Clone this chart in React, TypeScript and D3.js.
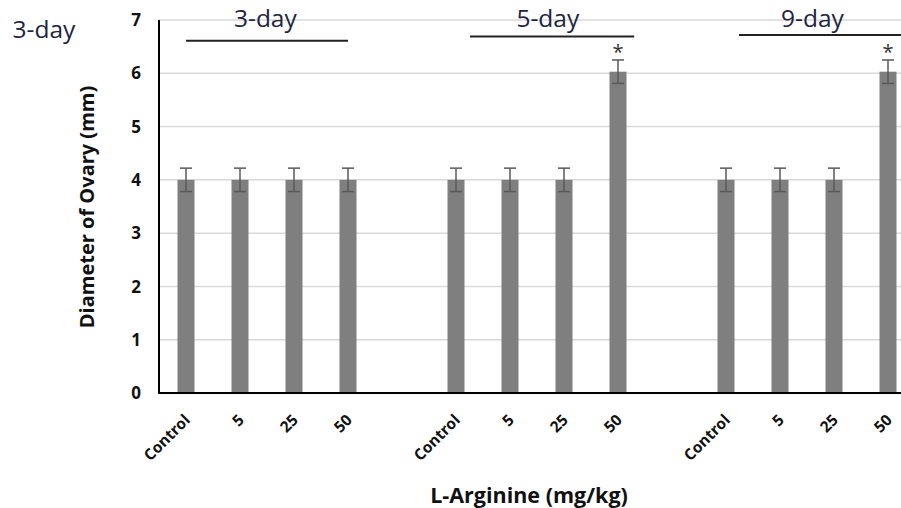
import React from "react";
import * as d3 from "d3";

const groups = ["3-day", "5-day", "9-day"];
const doses = ["Control", "5", "25", "50"];
const values3day = [4, 4, 4, 4];
const values5day = [4, 4, 4, 6.03];
const values9day = [4, 4, 4, 6.03];
const errors3day = [0.22, 0.22, 0.22, 0.22];
const errors5day = [0.22, 0.22, 0.22, 0.22];
const errors9day = [0.22, 0.22, 0.22, 0.22];
const signif3day = [false, false, false, false];
const signif5day = [false, false, false, true];
const signif9day = [false, false, false, true];
const yTicks = [0, 1, 2, 3, 4, 5, 6, 7];
// bracket annotations in slot units (start, end, y value)
const bracketStart = [0, 5.26, 10.24];
const bracketEnd = [3, 8.3, 13.6];
const bracketY = [6.61, 6.69, 6.72];
const bracketLabelX = [1.47, 6.7, 11.6];

const W = 901;
const H = 508;

export default function App() {
  const allValues = [values3day, values5day, values9day];
  const allErrors = [errors3day, errors5day, errors9day];
  const allSig = [signif3day, signif5day, signif9day];

  const slots: string[] = [];
  const bars: { key: string; label: string; v: number; e: number; sig: boolean }[] = [];
  groups.forEach((g, gi) => {
    doses.forEach((d, di) => {
      const key = g + "|" + d;
      slots.push(key);
      bars.push({ key, label: d, v: allValues[gi][di], e: allErrors[gi][di], sig: allSig[gi][di] });
    });
    if (gi < groups.length - 1) slots.push("gap" + gi);
  });

  const x0 = 159;
  const step = 54;
  const x = d3
    .scaleBand<string>()
    .domain(slots)
    .range([x0, x0 + step * slots.length])
    .paddingInner(1 - 17 / 54)
    .paddingOuter((1 - 17 / 54) / 2);
  const y = d3.scaleLinear().domain([0, 7]).range([393, 20]);
  const bw = x.bandwidth();
  const cx = (k: string) => (x(k) as number) + bw / 2;
  const slotX = (s: number) => x0 + step * (s + 0.5);

  const font = "'Open Sans', 'Noto Sans', sans-serif";

  return (
    <svg width={W} height={H} style={{ position: "absolute", left: 0, top: 0, background: "#fff" }}>
      <rect x={0} y={0} width={W} height={H} fill="#fff" />
      {/* gridlines */}
      {yTicks.slice(1).map((t) => (
        <line key={"g" + t} x1={x0} x2={W} y1={y(t)} y2={y(t)} stroke="#d9d9d9" strokeWidth={1.5} />
      ))}
      {/* bars */}
      {bars.map((b) => (
        <rect key={b.key} x={x(b.key)} y={y(b.v)} width={bw} height={y(0) - y(b.v)} fill="#7f7f7f" />
      ))}
      {/* error bars */}
      {bars.map((b) => {
        const c = cx(b.key);
        return (
          <g key={"e" + b.key} stroke="#595959" strokeWidth={1.5}>
            <line x1={c} x2={c} y1={y(b.v + b.e)} y2={y(b.v - b.e)} />
            <line x1={c - 6} x2={c + 6} y1={y(b.v + b.e)} y2={y(b.v + b.e)} />
            <line x1={c - 6} x2={c + 6} y1={y(b.v - b.e)} y2={y(b.v - b.e)} />
          </g>
        );
      })}
      {/* asterisks */}
      {bars
        .filter((b) => b.sig)
        .map((b) => (
          <text key={"s" + b.key} x={cx(b.key)} y={y(b.v + b.e) - 1} textAnchor="middle" fontFamily={font} fontSize={20} fill="#333">
            *
          </text>
        ))}
      {/* axes */}
      <line x1={x0} x2={x0} y1={y(7)} y2={y(0)} stroke="#000" strokeWidth={2} />
      <line x1={x0 - 1} x2={W} y1={y(0)} y2={y(0)} stroke="#000" strokeWidth={2} />
      {/* y tick labels */}
      {yTicks.map((t) => (
        <text key={"yt" + t} x={141} y={y(t)} dy="0.36em" textAnchor="end" fontFamily={font} fontWeight="bold" fontSize={17} fill="#111">
          {t}
        </text>
      ))}
      {/* x tick labels */}
      {bars.map((b) => {
        const c = cx(b.key);
        return (
          <text
            key={"xt" + b.key}
            transform={`translate(${c + 5},${421}) rotate(-45)`}
            textAnchor="end"
            fontFamily={font}
            fontWeight="bold"
            fontSize={15.5}
            fill="#111"
          >
            {b.label}
          </text>
        );
      })}
      {/* axis titles */}
      <text transform={`translate(94,207) rotate(-90)`} textAnchor="middle" fontFamily={font} fontWeight="bold" fontSize={20} fill="#111">
        Diameter of Ovary (mm)
      </text>
      <text x={529} y={503} textAnchor="middle" fontFamily={font} fontWeight="bold" fontSize={21.5} fill="#111">
        L-Arginine (mg/kg)
      </text>
      {/* brackets */}
      {groups.map((g, i) => (
        <g key={"br" + g}>
          <line x1={slotX(bracketStart[i])} x2={slotX(bracketEnd[i])} y1={y(bracketY[i])} y2={y(bracketY[i])} stroke="#222" strokeWidth={2} />
          <text x={slotX(bracketLabelX[i])} y={y(6.87)} textAnchor="middle" fontFamily={font} fontSize={24.5} fill="#1f2540">
            {g}
          </text>
        </g>
      ))}
      <text x={44} y={38} textAnchor="middle" fontFamily={font} fontSize={24.5} fill="#1f2540">
        {groups[0]}
      </text>
    </svg>
  );
}
